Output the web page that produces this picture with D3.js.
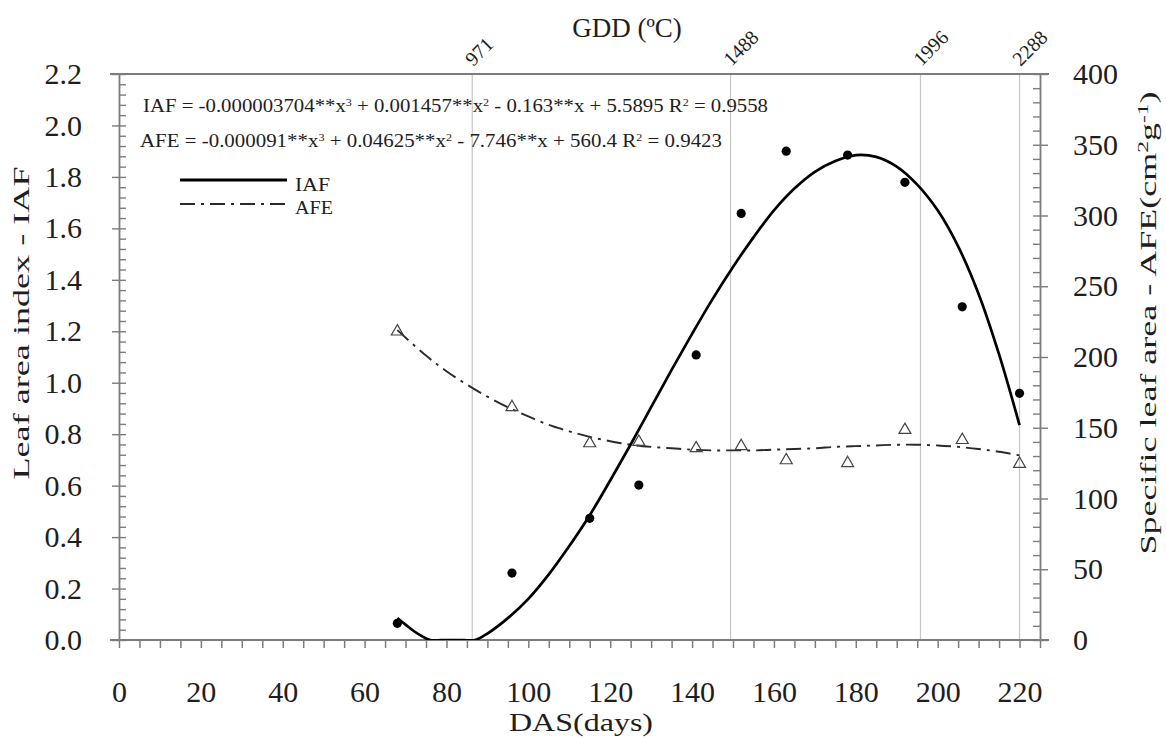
<!DOCTYPE html>
<html><head><meta charset="utf-8">
<script src="https://cdn.jsdelivr.net/npm/d3@7"></script>
<style>
body{margin:0;background:#fff}
svg{display:block}
text{font-family:"Liberation Serif","Times New Roman",serif;fill:#1e1e1e}
</style>
</head><body>
<svg id="c" width="1166" height="738"></svg>
<script>
// ---- data ----
const das = [68, 96, 115, 127, 141, 152, 163, 178, 192, 206, 220];
const iaf = [0.065, 0.26, 0.473, 0.602, 1.108, 1.658, 1.90, 1.885, 1.779, 1.295, 0.959];
const afe = [218, 164.5, 139, 140, 135.5, 137, 127, 125, 148.4, 141.3, 124.4];

const iafFitDas = [68, 70, 72, 74, 76, 80, 84, 87, 90, 95, 100, 105, 110, 115, 120, 125, 130, 135, 140, 145, 150, 155, 160, 165, 170, 175, 180, 185, 190, 195, 200, 205, 210, 215, 220];
const iafFit    = [0.085, 0.06, 0.035, 0.015, 0, 0, 0, 0, 0.025, 0.085, 0.16, 0.255, 0.365, 0.485, 0.62, 0.76, 0.905, 1.05, 1.19, 1.325, 1.45, 1.565, 1.67, 1.755, 1.82, 1.862, 1.885, 1.878, 1.84, 1.77, 1.67, 1.53, 1.345, 1.11, 0.835];

const afeFitDas = [68, 75, 80, 85, 90, 95, 100, 105, 110, 115, 120, 125, 130, 135, 140, 145, 150, 155, 160, 165, 170, 175, 180, 185, 190, 195, 200, 205, 210, 215, 220];
const afeFit    = [219, 201, 190, 180.5, 172, 164.5, 158, 152, 147.5, 143.5, 140.5, 138, 136.5, 135.5, 134.5, 134, 134, 134, 134.5, 135, 135.5, 136.5, 137, 137.5, 138, 138, 137.5, 136.5, 135, 133, 130.5];

const xTickLabels = [0, 20, 40, 60, 80, 100, 120, 140, 160, 180, 200, 220];
const yLeftTicks = [0, 0.2, 0.4, 0.6, 0.8, 1.0, 1.2, 1.4, 1.6, 1.8, 2.0, 2.2];
const yRightTicks = [0, 50, 100, 150, 200, 250, 300, 350, 400];
const gddDas = [86.3, 149.4, 195.8, 220];
const gddLabels = ["971", "1488", "1996", "2288"];

// ---- scales ----
const svg = d3.select("#c");
const x = d3.scaleLinear().domain([0, 225]).range([119, 1040]);
const yL = d3.scaleLinear().domain([0, 2.2]).range([640, 74]);
const yR = d3.scaleLinear().domain([0, 400]).range([640, 74]);
const axisColor = "#7c7c7c";

svg.append("defs").append("clipPath").attr("id", "plot")
  .append("rect").attr("x", x(0)).attr("y", yL(2.2))
  .attr("width", x(225) - x(0)).attr("height", yL(0) - yL(2.2));

// gridlines (GDD)
svg.append("g").selectAll("line").data(gddDas).join("line")
  .attr("x1", d => x(d)).attr("x2", d => x(d))
  .attr("y1", yL(2.2)).attr("y2", yL(0))
  .attr("stroke", "#c6c6c6").attr("stroke-width", 1.2);

svg.append("g").selectAll("text").data(gddDas).join("text")
  .attr("transform", d => `translate(${x(d) + 1},67) rotate(-45)`)
  .style("font-size", "20px")
  .text((d, i) => gddLabels[i]);

svg.append("text").attr("x", 627).attr("y", 37).attr("text-anchor", "middle")
  .style("font-size", "27px").text("GDD (ºC)");

// frame horizontals
[yL(0), yL(2.2)].forEach(yy => {
  svg.append("line").attr("x1", x(0) - 9).attr("x2", x(225) + 9)
    .attr("y1", yy).attr("y2", yy)
    .attr("stroke", axisColor).attr("stroke-width", 1.8);
});

// x axis
const gx = svg.append("g").attr("transform", `translate(0,${yL(0)})`)
  .call(d3.axisBottom(x).tickValues(d3.range(0, 226, 5)).tickSize(8).tickSizeOuter(0)
    .tickFormat(d => xTickLabels.includes(d) ? d : ""));
gx.select(".domain").remove();
gx.selectAll(".tick line").attr("stroke", axisColor).attr("stroke-width", 1.5);
gx.selectAll(".tick text").attr("y", 62).attr("dy", null).style("font-size", "30px").attr("fill", "#1e1e1e");

// left axis
const gl = svg.append("g").attr("transform", `translate(${x(0)},0)`)
  .call(d3.axisLeft(yL).tickValues(yLeftTicks).tickSize(7).tickSizeOuter(0).tickPadding(30)
    .tickFormat(d3.format(".1f")));
const glm = svg.append("g").attr("transform", `translate(${x(0)},0)`)
  .call(d3.axisRight(yL).tickValues(d3.range(0, 2.2001, 0.04)).tickSize(7).tickFormat(""));
glm.select(".domain").remove();

// right axis
const gr = svg.append("g").attr("transform", `translate(${x(225)},0)`)
  .call(d3.axisRight(yR).tickValues(yRightTicks).tickSize(8).tickSizeOuter(0).tickPadding(25));
const grm = svg.append("g").attr("transform", `translate(${x(225)},0)`)
  .call(d3.axisLeft(yR).tickValues(d3.range(0, 401, 10)).tickSize(7).tickFormat(""));
grm.select(".domain").remove();

[gl, glm, gr, grm].forEach(g => {
  g.selectAll(".domain").attr("stroke", axisColor).attr("stroke-width", 1.8);
  g.selectAll(".tick line").attr("stroke", axisColor).attr("stroke-width", 1.4);
  g.selectAll(".tick text").style("font-size", "30px").attr("fill", "#1e1e1e");
});

// fitted curves
const lineIAF = d3.line().x((d, i) => x(iafFitDas[i])).y(d => yL(d)).curve(d3.curveCatmullRom.alpha(0.5));
const lineAFE = d3.line().x((d, i) => x(afeFitDas[i])).y(d => yR(d)).curve(d3.curveCatmullRom.alpha(0.5));

svg.append("path").attr("d", lineAFE(afeFit)).attr("fill", "none")
  .attr("stroke", "#2a2a2a").attr("stroke-width", 1.9).attr("stroke-dasharray", "15,6,3,6");
svg.append("path").attr("d", lineIAF(iafFit)).attr("fill", "none").attr("clip-path", "url(#plot)")
  .attr("stroke", "#000").attr("stroke-width", 2.7);

// markers
svg.append("g").selectAll("path").data(afe).join("path")
  .attr("transform", (d, i) => `translate(${x(das[i])},${yR(d)})`)
  .attr("d", d3.symbol(d3.symbolTriangle, 62))
  .attr("fill", "none").attr("stroke", "#444").attr("stroke-width", 1.2);
svg.append("g").selectAll("circle").data(iaf).join("circle")
  .attr("cx", (d, i) => x(das[i])).attr("cy", d => yL(d)).attr("r", 4.6)
  .attr("fill", "#000");

// legend
svg.append("line").attr("x1", 180).attr("x2", 287).attr("y1", 180).attr("y2", 180)
  .attr("stroke", "#000").attr("stroke-width", 3);
svg.append("line").attr("x1", 180).attr("x2", 287).attr("y1", 204).attr("y2", 204)
  .attr("stroke", "#2a2a2a").attr("stroke-width", 1.9).attr("stroke-dasharray", "15,6,3,6");
svg.append("text").attr("x", 295).attr("y", 191).attr("textLength", 35).attr("lengthAdjust", "spacingAndGlyphs")
  .style("font-size", "19px").text("IAF");
svg.append("text").attr("x", 295).attr("y", 214).attr("textLength", 38).attr("lengthAdjust", "spacingAndGlyphs")
  .style("font-size", "19px").text("AFE");

// equations
function eq(parts, xx, yy, len) {
  const t = svg.append("text").attr("x", xx).attr("y", yy)
    .attr("textLength", len).attr("lengthAdjust", "spacingAndGlyphs")
    .style("font-size", "19px");
  parts.forEach(p => {
    if (typeof p === "string") t.append("tspan").text(p);
    else t.append("tspan").attr("baseline-shift", "super").style("font-size", "11px").text(p.sup);
  });
}
eq(["IAF = -0.000003704**x", {sup: "3"}, " + 0.001457**x", {sup: "2"}, " - 0.163**x + 5.5895 R", {sup: "2"}, " = 0.9558"], 143, 112, 625);
eq(["AFE = -0.000091**x", {sup: "3"}, " + 0.04625**x", {sup: "2"}, " - 7.746**x + 560.4  R", {sup: "2"}, " = 0.9423"], 140, 147, 582);

// axis titles
svg.append("text").attr("transform", "translate(29,323) rotate(-90)")
  .attr("text-anchor", "middle").attr("textLength", 313).attr("lengthAdjust", "spacingAndGlyphs")
  .style("font-size", "23px").text("Leaf area index - IAF");

const rt = svg.append("text").attr("transform", "translate(1156,323) rotate(-90)")
  .attr("text-anchor", "middle").attr("textLength", 463).attr("lengthAdjust", "spacingAndGlyphs")
  .style("font-size", "23px");
rt.append("tspan").text("Specific leaf area - AFE(cm");
rt.append("tspan").attr("baseline-shift", "super").style("font-size", "15px").text("2");
rt.append("tspan").text("g");
rt.append("tspan").attr("baseline-shift", "super").style("font-size", "15px").text("-1");
rt.append("tspan").text(")");

svg.append("text").attr("x", 581).attr("y", 731).attr("text-anchor", "middle")
  .attr("textLength", 144).attr("lengthAdjust", "spacingAndGlyphs")
  .style("font-size", "26px").text("DAS(days)");
</script>
</body></html>
